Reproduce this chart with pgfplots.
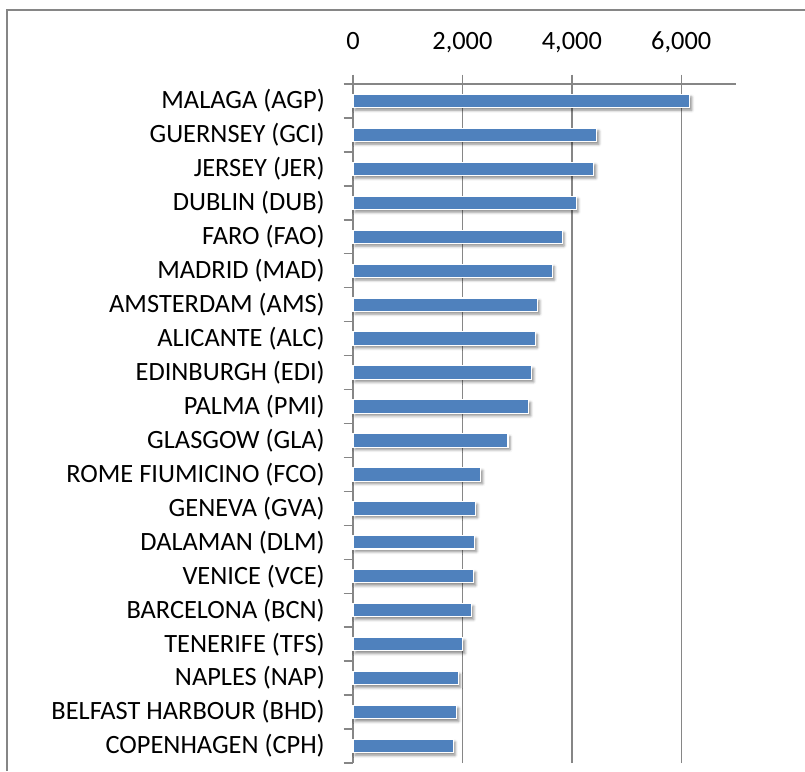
\documentclass[border=0pt]{standalone}
\usepackage{fontspec}
\setmainfont{Carlito}
\usepackage{pgfplots}
\pgfplotsset{compat=1.18}
\usetikzlibrary{shadows.blur}
\definecolor{barblue}{HTML}{4F81BD}
\definecolor{gridgray}{HTML}{868686}
\begin{document}
\fontsize{19.8}{23}\selectfont
\begin{tikzpicture}
\useasboundingbox (0,0) rectangle (603.75pt,578.25pt);
\draw[gridgray, line width=1.2pt] (5.25pt,0) -- (5.25pt,570.75pt) -- (603.75pt,570.75pt);
\begin{axis}[
  at={(264.75pt,6pt)}, anchor=south west,
  scale only axis, width=287.25pt, height=509.25pt,
  xbar, bar width=10pt,
  xmin=0, xmax=7000, ymin=-0.5, ymax=19.5,
  axis x line*=top, axis y line*=left,
  axis line style={gridgray, line width=1.1pt},
  tick align=outside, major tick length=7pt,
  tick style={gridgray, line width=1.1pt},
  xtick={0,2000,4000,6000},
  xmajorgrids, grid style={gridgray, line width=1.1pt},
  /pgf/number format/assume math mode=true,
  /pgf/number format/1000 sep={,},
  xticklabel style={anchor=base, inner sep=0pt, yshift=19pt},
  ytick={-0.5,0.5,...,19.5}, yticklabels={},
  extra y ticks={0,...,19},
  extra y tick labels={COPENHAGEN (CPH),BELFAST HARBOUR (BHD),NAPLES (NAP),TENERIFE (TFS),BARCELONA (BCN),VENICE (VCE),DALAMAN (DLM),GENEVA (GVA),ROME FIUMICINO (FCO),GLASGOW (GLA),PALMA (PMI),EDINBURGH (EDI),ALICANTE (ALC),AMSTERDAM (AMS),MADRID (MAD),FARO (FAO),DUBLIN (DUB),JERSEY (JER),GUERNSEY (GCI),MALAGA (AGP)},
  extra y tick style={tick style={draw=none}, yticklabel style={anchor=east, inner sep=0pt, xshift=-14pt}},
  clip=false,
]
\addplot[fill=barblue, draw=white, line width=0.8pt,
  blur shadow={shadow xshift=1.5pt, shadow yshift=-2pt, shadow blur radius=2pt, shadow opacity=45}]
  coordinates {
  (1832,0) (1894,1) (1923,2) (2009,3) (2168,4) (2205,5) (2223,6) (2241,7)
  (2333,8) (2833,9) (3212,10) (3267,11) (3333,12) (3377,13) (3645,14)
  (3822,15) (4079,16) (4403,17) (4458,18) (6154,19)};
\end{axis}
\end{tikzpicture}
\end{document}
